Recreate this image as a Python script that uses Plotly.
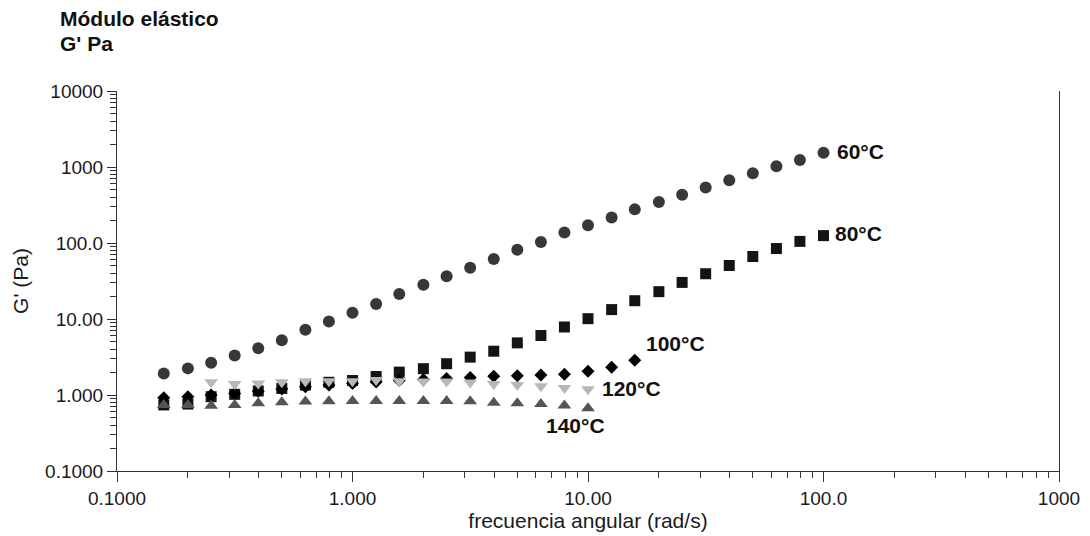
import numpy as np
import plotly.graph_objects as go

# angular frequency grid (rad/s), 10 points per decade
freq_all = [0.158, 0.2, 0.251, 0.316, 0.398, 0.501, 0.631, 0.794, 1.0, 1.26, 1.58, 2.0,
            2.51, 3.16, 3.98, 5.01, 6.31, 7.94, 10.0, 12.6, 15.8, 20.0, 25.1, 31.6,
            39.8, 50.1, 63.1, 79.4, 100.0]

g60 = [1.92, 2.24, 2.65, 3.3, 4.13, 5.26, 7.2, 9.25, 12.1, 15.7, 21.3, 28.2, 36.6, 47.2,
       61.5, 81.3, 103, 137, 171, 217, 277, 346, 431, 537, 671, 830, 1023, 1239, 1545]
g80 = [0.74, 0.76, 0.95, 1.02, 1.13, 1.22, 1.35, 1.47, 1.55, 1.75, 2.0, 2.22, 2.58, 3.15,
       3.77, 4.85, 6.06, 7.85, 10.1, 13.3, 17.4, 22.9, 30.3, 39.4, 50.6, 66.4, 84.5, 105, 125]
g100 = [0.92, 0.95, 1.0, 1.05, 1.12, 1.2, 1.28, 1.35, 1.42, 1.48, 1.55, 1.6, 1.65, 1.7,
        1.76, 1.79, 1.83, 1.88, 2.06, 2.31, 2.87]
g120 = [1.47, 1.40, 1.42, 1.47, 1.52, 1.52, 1.52, 1.57, 1.52, 1.50, 1.50, 1.46, 1.40,
        1.35, 1.30, 1.24, 1.19]
g140 = [0.74, 0.74, 0.72, 0.74, 0.78, 0.80, 0.82, 0.83, 0.834, 0.834, 0.834, 0.834, 0.834,
        0.83, 0.79, 0.78, 0.76, 0.73, 0.67]

freq60 = freq_all
freq80 = freq_all
freq100 = freq_all[:21]
freq120 = freq_all[2:19]
freq140 = freq_all[:19]

series_names = ["60°C", "80°C", "100°C", "120°C", "140°C"]

tick_vals_x = [0.1, 1, 10, 100, 1000]
tick_text_x = ["0.1000", "1.000", "10.00", "100.0", "1000"]
tick_vals_y = [0.1, 1, 10, 100, 1000, 10000]
tick_text_y = ["0.1000", "1.000", "10.00", "100.0", "1000", "10000"]

minor_x = [m * 10.0 ** e for e in range(-1, 3) for m in range(2, 10)]
minor_y = [m * 10.0 ** e for e in range(-1, 4) for m in range(2, 10)]

styles = [
    dict(symbol="circle", color="#383838", size=12),
    dict(symbol="square", color="#141414", size=11),
    dict(symbol="diamond", color="#000000", size=10),
    dict(symbol="triangle-down", color="#b8b8b8", size=12),
    dict(symbol="triangle-up", color="#555555", size=12),
]
data = [(freq60, g60), (freq80, g80), (freq100, g100), (freq120, g120), (freq140, g140)]
# (xshift px, yshift px, anchor) for the series labels, relative to each series' last point
label_offsets = [(11, 1, "left"), (9, 2, "left"), (9, 17, "left"), (12, 1, "left"), (-13, -17, "center")]

fig = go.Figure()
for name, (xs, ys), st in zip(series_names, data, styles):
    fig.add_trace(go.Scatter(x=xs, y=ys, mode="markers", name=name,
                             marker=dict(symbol=st["symbol"], color=st["color"],
                                         size=st["size"], line=dict(width=0))))

lab_font = dict(family="Liberation Sans, Arial", size=21, color="#111")
for name, (xs, ys), (dx, dy, anc) in zip(series_names, data, label_offsets):
    fig.add_annotation(x=np.log10(xs[-1]), y=np.log10(ys[-1]), xref="x", yref="y",
                       text="<b>" + name + "</b>", showarrow=False, xanchor=anc,
                       yanchor="middle", xshift=dx, yshift=dy, font=lab_font)

fig.add_annotation(x=0, y=1, xref="paper", yref="paper", xanchor="left", yanchor="middle",
                   text="<b>Módulo elástico</b>", showarrow=False, xshift=-59, yshift=73,
                   font=lab_font)
fig.add_annotation(x=0, y=1, xref="paper", yref="paper", xanchor="left", yanchor="middle",
                   text="<b>G' Pa</b>", showarrow=False, xshift=-59, yshift=48,
                   font=lab_font)

tick_font = dict(family="Liberation Sans, Arial", size=19, color="#1a1a1a")
title_font = dict(family="Liberation Sans, Arial", size=21, color="#1a1a1a")
fig.update_xaxes(type="log", range=[-1, 3], tickvals=tick_vals_x, ticktext=tick_text_x,
                 ticks="outside", ticklen=10, tickcolor="#333", showline=True, linecolor="#333",
                 linewidth=1, showgrid=False, zeroline=False, tickfont=tick_font,
                 minor=dict(tickvals=minor_x, ticks="outside", ticklen=6, tickcolor="#333",
                            showgrid=False),
                 title=dict(text="frecuencia angular (rad/s)", font=title_font, standoff=2))
fig.update_yaxes(type="log", range=[-1, 4], tickvals=tick_vals_y, ticktext=tick_text_y,
                 ticks="outside", ticklen=9, tickcolor="#333", showline=True, linecolor="#333",
                 linewidth=1, mirror=True, showgrid=False, zeroline=False, tickfont=tick_font,
                 minor=dict(tickvals=minor_y, ticks="outside", ticklen=6, tickcolor="#333",
                            showgrid=False),
                 title=dict(text="G' (Pa)", font=title_font, standoff=10))

# the page body adds an 8 px offset, so margins are shifted to land the plot at the reference spot
fig.update_layout(width=1090, height=536, margin=dict(l=109, r=39, t=83, b=73),
                  plot_bgcolor="white", paper_bgcolor="white", showlegend=False,
                  font=dict(family="Liberation Sans, Arial"))
fig.write_html("out.html")
